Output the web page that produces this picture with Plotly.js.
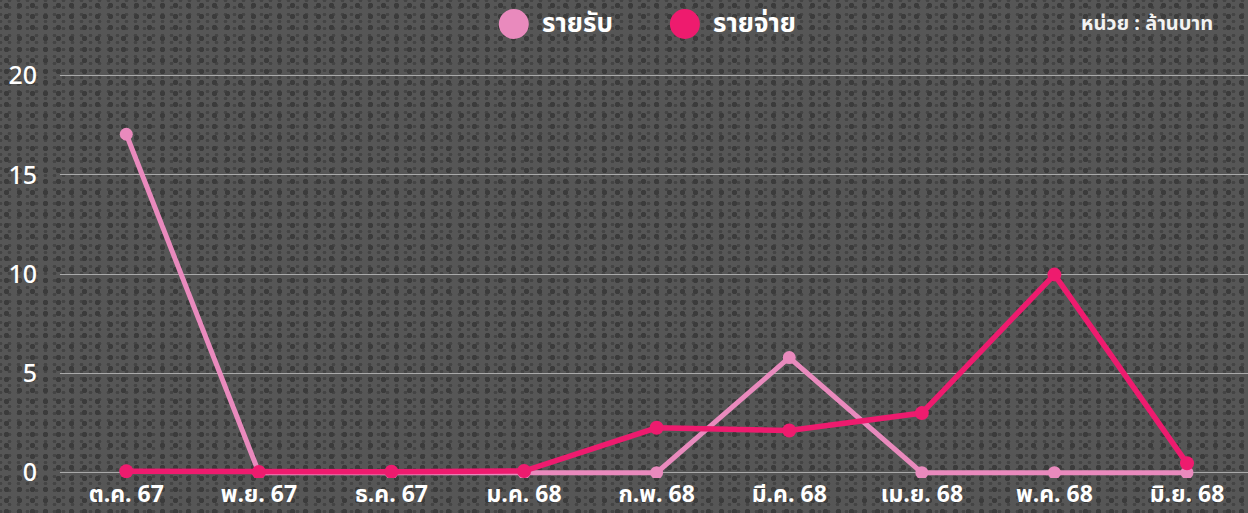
<!DOCTYPE html>
<html>
<head>
<meta charset="utf-8">
<script src="https://cdn.plot.ly/plotly-3.0.1.min.js"></script>
<style>
  html, body { margin: 0; padding: 0; }
  body {
    width: 1248px; height: 513px; overflow: hidden;
    background-color: #565656;
    background-image:
      radial-gradient(circle at 50% 50%, #3b3b3b 0 2.4px, rgba(0,0,0,0) 3px),
      radial-gradient(ellipse at 50% 50%, #444 0 1.6px, rgba(0,0,0,0) 2.2px);
    background-size: 13px 11px, 9px 7px;
    background-position: 0 0, 5px 4px;
  }
  #chart { width: 1248px; height: 513px; }
</style>
</head>
<body>
<div id="chart"></div>
<script>
// ---- data ----
const months = ["ต.ค. 67", "พ.ย. 67", "ธ.ค. 67", "ม.ค. 68", "ก.พ. 68", "มี.ค. 68", "เม.ย. 68", "พ.ค. 68", "มิ.ย. 68"];
const income = [17.05, 0, 0, 0, 0, 5.8, 0, 0, 0];          // รายรับ
const expense = [0.07, 0.03, 0.05, 0.08, 2.26, 2.12, 3.0, 9.98, 0.47]; // รายจ่าย
const seriesNames = ["รายรับ", "รายจ่าย"];
const unitLabel = "หน่วย : ล้านบาท";
const yTicks = [0, 5, 10, 15, 20];

const colIncome = "#e98abd";
const colExpense = "#ee1b6e";
const FONT = "Noto Sans Thai, Loma, Noto Sans, sans-serif";

const traces = [
  {
    x: months, y: income, name: seriesNames[0], type: "scatter", mode: "lines+markers",
    line: { color: colIncome, width: 5 },
    marker: { color: colIncome, size: 13 },
    showlegend: false, hoverinfo: "skip"
  },
  {
    x: months, y: expense, name: seriesNames[1], type: "scatter", mode: "lines+markers",
    line: { color: colExpense, width: 5.5 },
    marker: { color: colExpense, size: 14 },
    showlegend: false, hoverinfo: "skip"
  }
];

const plotH = 513 - 40 - 35;
const legendY = 1 + 16 / plotH; // paper coords above plot area
function circleShape(xc, color) {
  return {
    type: "circle", xref: "paper", yref: "paper",
    xsizemode: "pixel", ysizemode: "pixel",
    xanchor: xc, yanchor: legendY,
    x0: -15, x1: 15, y0: -15, y1: 15,
    fillcolor: color, line: { width: 0 }, layer: "above"
  };
}

const layout = {
  width: 1248, height: 513,
  paper_bgcolor: "rgba(0,0,0,0)",
  plot_bgcolor: "rgba(0,0,0,0)",
  margin: { l: 60, r: 0, t: 40, b: 35 },
  font: { family: FONT, color: "#ffffff" },
  xaxis: {
    type: "category",
    range: [-0.5, 8.46],
    showgrid: false, zeroline: false, showline: false, ticks: "",
    tickfont: { size: 23, color: "#ffffff", family: FONT, weight: "bold" },
    ticklabelstandoff: 0,
    fixedrange: true
  },
  yaxis: {
    range: [-0.27, 21.8],
    tickvals: yTicks,
    showgrid: true, gridcolor: "#a9a9a9", gridwidth: 1,
    zeroline: false, showline: false, ticks: "",
    tickfont: { size: 25, color: "#ffffff", family: FONT, weight: 500 },
    ticklabelstandoff: 22,
    fixedrange: true
  },
  shapes: [
    circleShape(0.382, colIncome),
    circleShape(0.526, colExpense)
  ],
  annotations: [
    { xref: "paper", yref: "paper", x: 0.404, y: legendY, xanchor: "left", yanchor: "middle",
      text: "<b>" + seriesNames[0] + "</b>", showarrow: false,
      font: { size: 26, color: "#ffffff", family: FONT } },
    { xref: "paper", yref: "paper", x: 0.548, y: legendY, xanchor: "left", yanchor: "middle",
      text: "<b>" + seriesNames[1] + "</b>", showarrow: false,
      font: { size: 26, color: "#ffffff", family: FONT } },
    { xref: "paper", yref: "paper", x: 0.972, y: legendY, xanchor: "right", yanchor: "middle",
      text: "<b>" + unitLabel + "</b>", showarrow: false,
      font: { size: 20, color: "#f2f2f2", family: FONT } }
  ]
};

Plotly.newPlot("chart", traces, layout, { displayModeBar: false, staticPlot: true });
</script>
</body>
</html>
